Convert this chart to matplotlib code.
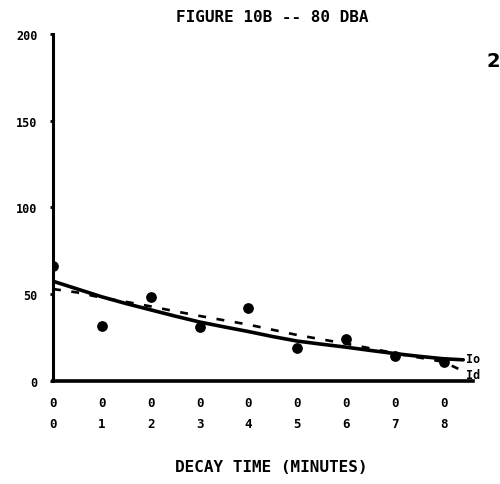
import matplotlib.pyplot as plt

# measured points (decay time in minutes, level)
t_pts = [0, 1, 2, 3, 4, 5, 6, 7, 8]
y_pts = [66, 31.5, 48.3, 31, 42, 19, 24, 14.4, 11]

# fitted curve Io (solid)
t_io = [0, 0.5, 1, 1.5, 2, 2.5, 3, 3.5, 4, 4.5, 5, 5.5, 6, 6.5, 7, 7.5, 8, 8.4]
y_io = [57.5, 53, 48.5, 44.6, 41, 37.4, 34, 31.2, 28.5, 25.6, 23, 21.2, 19.5, 17.6, 15.8, 14.2, 12.8, 12.2]

# fitted curve Id (dashed)
t_id = [0, 0.5, 1, 1.5, 2, 2.5, 3, 3.5, 4, 4.5, 5, 5.5, 6, 6.5, 7, 7.5, 8, 8.3]
y_id = [53, 51, 48, 45.6, 43, 40.2, 37.5, 35, 32.5, 29.5, 26.5, 24, 21.5, 18.8, 16, 13.5, 11, 7]

xtick_pos = [0, 1, 2, 3, 4, 5, 6, 7, 8]
xtick_lab = ['0\n0', '0\n1', '0\n2', '0\n3', '0\n4', '0\n5', '0\n6', '0\n7', '0\n8']
ytick_pos = [0, 50, 100, 150, 200]
ytick_lab = ['0', '50', '100', '150', '200']

blocky = dict(family='DejaVu Sans Mono', fontweight='bold')

fig = plt.figure(figsize=(5.0, 4.85), dpi=100)
ax = fig.add_axes([0.106, 0.2124, 0.84, 0.7155])

ax.plot(t_io, y_io, color='black', linewidth=2.6, solid_capstyle='round')
ax.plot(t_id, y_id, color='black', linewidth=1.9, linestyle=(0, (3, 4)))
ax.scatter(t_pts, y_pts, s=45, color='black', zorder=3)

ax.set_xlim(0, 8.6)
ax.set_ylim(0, 200)
ax.set_xticks(xtick_pos)
ax.set_xticklabels(xtick_lab, fontsize=9, linespacing=1.75, **blocky)
ax.set_yticks(ytick_pos)
ax.set_yticklabels(ytick_lab, fontsize=8.5, **blocky)
ax.tick_params(axis='y', length=2, width=2, pad=9)
ax.tick_params(axis='x', length=0, pad=11)

for side in ['top', 'right']:
    ax.spines[side].set_visible(False)
ax.spines['left'].set_linewidth(2.2)
ax.spines['bottom'].set_linewidth(2.6)

# curve labels at the right end
ax.text(8.45, 13, 'Io', fontsize=8.5, va='center', ha='left', **blocky)
ax.text(8.45, 3.5, 'Id', fontsize=8.5, va='center', ha='left', **blocky)

fig.text(0.545, 0.963, 'FIGURE 10B -- 80 DBA', fontsize=11.5, ha='center', va='center', **blocky)
fig.text(0.542, 0.037, 'DECAY TIME (MINUTES)', fontsize=11.5, ha='center', va='center', **blocky)
fig.text(0.974, 0.874, '2', fontsize=14, ha='left', va='center', family='DejaVu Sans',
         fontweight='bold')

fig.savefig('out.png', dpi=100)
